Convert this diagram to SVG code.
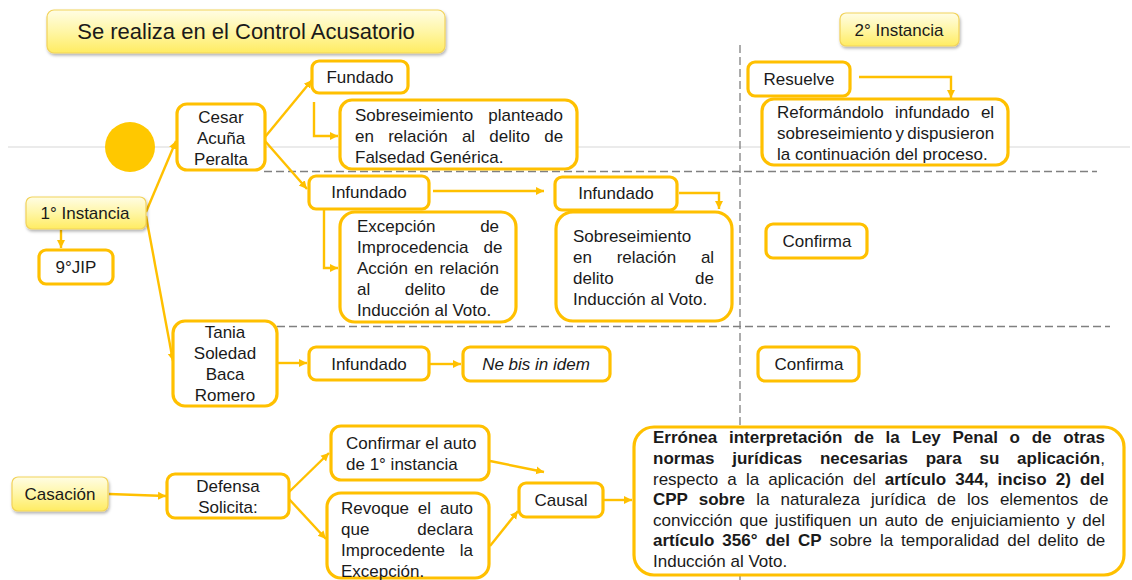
<svg xmlns="http://www.w3.org/2000/svg" width="1132" height="580" viewBox="0 0 1132 580">
<defs>
<linearGradient id="yg" x1="0" y1="0" x2="0" y2="1">
<stop offset="0" stop-color="#FFFDE4"/>
<stop offset="0.5" stop-color="#FFF6A6"/>
<stop offset="1" stop-color="#FFEC62"/>
</linearGradient>
<filter id="sh" x="-10%" y="-20%" width="120%" height="150%">
<feDropShadow dx="1" dy="2" stdDeviation="1.5" flood-color="#000" flood-opacity="0.3"/>
</filter>
<marker id="ah" markerWidth="10" markerHeight="10" refX="8" refY="5" orient="auto" markerUnits="userSpaceOnUse">
<path d="M0,1 L8,5 L0,9 Z" fill="#FFC000"/>
</marker>
<style>
.hd{fill:url(#yg);stroke:#F2D35A;stroke-width:1.2;filter:url(#sh)}
.bx{fill:#fff;stroke:#FFC000;stroke-width:3.2}
.t{font-family:"Liberation Sans",Arial,sans-serif;font-size:17px;fill:#1a1a1a}
.c{text-anchor:middle}
.b{font-weight:bold}
.cn{fill:none;stroke:#FFC000;stroke-width:2.4;marker-end:url(#ah)}
.dl{fill:none;stroke:#808080;stroke-width:1.3;stroke-dasharray:8 4}
</style>
</defs>
<rect width="1132" height="580" fill="#fff"/>
<g id="guides">
<line x1="8" y1="147" x2="1130" y2="147" stroke="#e4e4e4" stroke-width="1.5"/>
<line class="dl" x1="740" y1="45" x2="740" y2="580"/>
<line class="dl" x1="264" y1="171.5" x2="1097" y2="171.5"/>
<line class="dl" x1="277" y1="326.5" x2="1110" y2="326.5"/>
<circle cx="130" cy="147" r="25" fill="#FFC800"/>
</g>
<g id="connectors">
<path class="cn" d="M146,212 L176,141"/>
<path class="cn" d="M146,216 L173,361"/>
<path class="cn" d="M61,230 L61,248"/>
<path class="cn" d="M265,137 L312,80"/>
<path class="cn" d="M265,141 L307,189"/>
<path class="cn" d="M314,102 L314,136 L338,136"/>
<path class="cn" d="M324,210 L324,268 L338,268"/>
<path class="cn" d="M433,191 L544,191"/>
<path class="cn" d="M679,193 L719,193 L719,209"/>
<path class="cn" d="M278,363 L307,363"/>
<path class="cn" d="M430,364 L461,364"/>
<path class="cn" d="M859,77 L951,77 L951,98"/>
<path class="cn" d="M109,494 L166,496"/>
<path class="cn" d="M289,492 L329,453"/>
<path class="cn" d="M289,499 L326,539"/>
<path class="cn" d="M490,461 L544,472"/>
<path class="cn" d="M490,546 L518,511"/>
<path class="cn" d="M604,500 L632,500"/>
</g>
<g id="title">
<rect class="hd" x="47" y="10" width="398" height="43" rx="7"/>
<text class="t c" x="246" y="39" style="font-size:22px">Se realiza en el Control Acusatorio</text>
</g>
<g id="segunda">
<rect class="hd" x="840" y="13" width="119" height="33" rx="6"/>
<text class="t c" x="899" y="36">2° Instancia</text>
</g>
<g id="primera">
<rect class="hd" x="26" y="197" width="120" height="32" rx="6"/>
<text class="t c" x="85" y="219">1° Instancia</text>
</g>
<g id="jip">
<rect class="bx" x="39" y="250" width="74" height="34" rx="7"/>
<text class="t c" x="76" y="273">9°JIP</text>
</g>
<g id="cesar">
<rect class="bx" x="177" y="104" width="88" height="66" rx="10"/>
<text class="t c" x="221" y="123">Cesar</text>
<text class="t c" x="221" y="144">Acuña</text>
<text class="t c" x="221" y="165">Peralta</text>
</g>
<g id="fundado">
<rect class="bx" x="312" y="61" width="96" height="32" rx="7"/>
<text class="t c" x="360" y="83">Fundado</text>
</g>
<g id="sob1">
<rect class="bx" x="340" y="100" width="237" height="69" rx="12"/>
<text class="t" x="355" y="121" word-spacing="10.5">Sobreseimiento planteado</text>
<text class="t" x="355" y="142" word-spacing="9.5">en relación al delito de</text>
<text class="t" x="355" y="163">Falsedad Genérica.</text>
</g>
<g id="infundado1">
<rect class="bx" x="309" y="176" width="120" height="33" rx="7"/>
<text class="t c" x="369" y="198">Infundado</text>
</g>
<g id="excepcion">
<rect class="bx" x="340" y="212" width="176" height="110" rx="15"/>
<text class="t" x="357" y="232" word-spacing="40">Excepción de</text>
<text class="t" x="357" y="253" word-spacing="10.3">Improcedencia de</text>
<text class="t" x="357" y="274" word-spacing="1.5">Acción en relación</text>
<text class="t" x="357" y="295" word-spacing="29.9">al delito de</text>
<text class="t" x="357" y="316">Inducción al Voto.</text>
</g>
<g id="infundado2">
<rect class="bx" x="555" y="177" width="122" height="33" rx="7"/>
<text class="t c" x="616" y="199">Infundado</text>
</g>
<g id="sob2">
<rect class="bx" x="556" y="212" width="176" height="109" rx="17"/>
<text class="t" x="573" y="242">Sobreseimiento</text>
<text class="t" x="573" y="263" word-spacing="20">en relación al</text>
<text class="t" x="573" y="284" word-spacing="76.7">delito de</text>
<text class="t" x="573" y="305">Inducción al Voto.</text>
</g>
<g id="tania">
<rect class="bx" x="173" y="321" width="104" height="85" rx="12"/>
<text class="t c" x="225" y="338">Tania</text>
<text class="t c" x="225" y="359">Soledad</text>
<text class="t c" x="225" y="380">Baca</text>
<text class="t c" x="225" y="401">Romero</text>
</g>
<g id="infundado3">
<rect class="bx" x="309" y="347" width="120" height="33" rx="7"/>
<text class="t c" x="369" y="370">Infundado</text>
</g>
<g id="nebis">
<rect class="bx" x="463" y="347" width="147" height="34" rx="7"/>
<text class="t c" x="536" y="370" font-style="italic">Ne bis in idem</text>
</g>
<g id="resuelve">
<rect class="bx" x="748" y="62" width="102" height="34" rx="7"/>
<text class="t c" x="799" y="85">Resuelve</text>
</g>
<g id="reformandolo">
<rect class="bx" x="762" y="99" width="246" height="66" rx="12"/>
<text class="t" x="777" y="118" word-spacing="6.5">Reformándolo infundado el</text>
<text class="t" x="777" y="139" word-spacing="-1.5">sobreseimiento y dispusieron</text>
<text class="t" x="777" y="160">la continuación del proceso.</text>
</g>
<g id="confirma1">
<rect class="bx" x="766" y="224" width="101" height="34" rx="7"/>
<text class="t c" x="817" y="247">Confirma</text>
</g>
<g id="confirma2">
<rect class="bx" x="758" y="347" width="101" height="34" rx="7"/>
<text class="t c" x="809" y="370">Confirma</text>
</g>
<g id="casacion">
<rect class="hd" x="12" y="477" width="96" height="34" rx="6"/>
<text class="t c" x="60" y="500">Casación</text>
</g>
<g id="defensa">
<rect class="bx" x="167" y="474" width="122" height="44" rx="8"/>
<text class="t c" x="228" y="492">Defensa</text>
<text class="t c" x="228" y="513">Solicita:</text>
</g>
<g id="confirmar">
<rect class="bx" x="331" y="426" width="158" height="54" rx="10"/>
<text class="t" x="346" y="449">Confirmar el auto</text>
<text class="t" x="346" y="470">de 1° instancia</text>
</g>
<g id="revoque">
<rect class="bx" x="327" y="493" width="162" height="85" rx="14"/>
<text class="t" x="341" y="514" word-spacing="4.1">Revoque el auto</text>
<text class="t" x="341" y="535" word-spacing="43.2">que declara</text>
<text class="t" x="341" y="556" word-spacing="10.1">Improcedente la</text>
<text class="t" x="341" y="577">Excepción.</text>
</g>
<g id="causal">
<rect class="bx" x="519" y="483" width="84" height="34" rx="7"/>
<text class="t c" x="561" y="506">Causal</text>
</g>
<g id="erronea">
<rect class="bx" x="634" y="427" width="490" height="148" rx="20"/>
<text class="t b" x="653" y="443" word-spacing="7">Errónea interpretación de la Ley Penal o de otras</text>
<text class="t" x="653" y="464" word-spacing="13.1"><tspan class="b">normas jurídicas necesarias para su aplicación</tspan>,</text>
<text class="t" x="653" y="485" word-spacing="4.4">respecto a la aplicación del <tspan class="b">artículo 344, inciso 2) del</tspan></text>
<text class="t" x="653" y="505" word-spacing="6.4"><tspan class="b">CPP sobre</tspan> la naturaleza jurídica de los elementos de</text>
<text class="t" x="653" y="526" word-spacing="2.4">convicción que justifiquen un auto de enjuiciamiento y del</text>
<text class="t" x="653" y="546" word-spacing="3.2"><tspan class="b">artículo 356° del CP</tspan> sobre la temporalidad del delito de</text>
<text class="t" x="653" y="567">Inducción al Voto.</text>
</g>
</svg>
